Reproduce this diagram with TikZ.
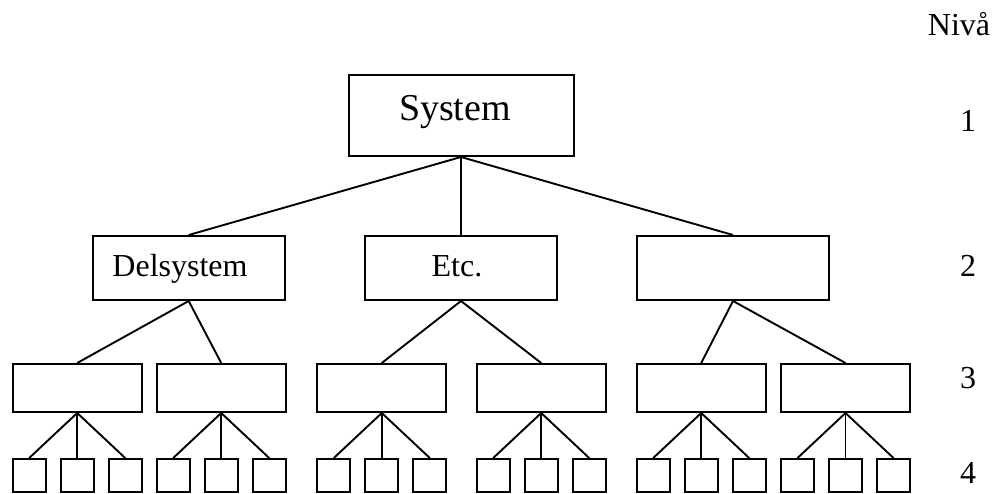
\documentclass[tikz,border=0pt]{standalone}
\usepackage{fontspec}
\setmainfont{Liberation Serif}
\begin{document}
\begin{tikzpicture}[x=1pt,y=-1pt,
  box/.style={draw,line width=2pt,inner sep=0pt,minimum width=#1},
  big/.style={box=192pt,minimum height=64pt},
  mid/.style={box=129pt,minimum height=48pt},
  small/.style={box=33pt,minimum height=33pt},
  conn/.style={line width=1.9pt},
  lbl/.style={font=\fontsize{32}{36}\selectfont,anchor=base,inner sep=0pt}]
\useasboundingbox (0,0) rectangle (994,493);
% level 1
\node[box=225pt,minimum height=81pt] (sys) at (461,115.5) {};
\node[anchor=base,inner sep=0pt,font=\fontsize{38}{44}\selectfont] (systxt) at (455,120) {System};
% level 2
\node[big] (d1) at (188.7,268) {};
\node[big] (d2) at (461,268) {};
\node[big] (d3) at (733,268) {};
\node[lbl] (d1txt) at (180,276.5) {Delsystem};
\node[lbl] (d2txt) at (457,276) {Etc.};
% level 3 and 4
\foreach \i/\L/\p in {1/12.7/1,2/156.7/1,3/317.3/2,4/476.7/2,5/636.7/3,6/781/3}{
  \node[mid] (m\i) at (\L+64.5,388) {};
  \draw[conn] (d\p.south) -- (m\i.north);
  \foreach \j/\o in {1/16.5,2/64.5,3/112.5}{
    \node[small] (s\i\j) at (\L+\o,475.5) {};
    \draw[conn] (m\i.south) -- (s\i\j.north);
  }
}
\foreach \p in {1,2,3}{\draw[conn] (sys.south) -- (d\p.north);}
% level labels
\node[lbl] (niva) at (959,35) {Nivå};
\node[lbl] (n1) at (968,131.7) {1};
\node[lbl] (n2) at (968,276.7) {2};
\node[lbl] (n3) at (968,388) {3};
\node[lbl] (n4) at (968,483.3) {4};
\end{tikzpicture}
\end{document}
